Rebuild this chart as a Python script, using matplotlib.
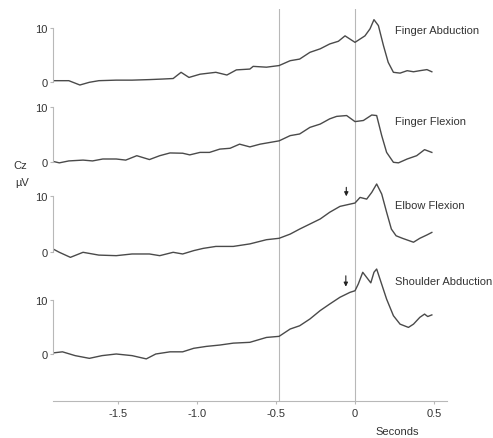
import matplotlib
matplotlib.use('Agg')
import matplotlib.pyplot as plt

# Cz potentials, four movements (uV vs seconds)
labels = ['Finger Abduction', 'Finger Flexion', 'Elbow Flexion', 'Shoulder Abduction']

t_fabd = [-1.90, -1.81, -1.74, -1.68, -1.62, -1.51, -1.41, -1.30, -1.22, -1.15, -1.10, -1.05,
          -0.98, -0.88, -0.81, -0.75, -0.665, -0.644, -0.56, -0.48, -0.41, -0.35, -0.285, -0.22,
          -0.16, -0.105, -0.063, 0.0, 0.063, 0.095, 0.12, 0.148, 0.18, 0.21, 0.243, 0.285,
          0.33, 0.37, 0.41, 0.455, 0.486]
v_fabd = [0.3, 0.3, -0.5, 0.0, 0.3, 0.4, 0.4, 0.5, 0.6, 0.7, 1.85, 0.9,
          1.5, 1.85, 1.35, 2.3, 2.45, 2.95, 2.8, 3.1, 4.0, 4.3, 5.55, 6.2,
          7.1, 7.6, 8.6, 7.4, 8.6, 9.9, 11.6, 10.5, 6.8, 3.7, 1.85, 1.7,
          2.15, 1.95, 2.15, 2.35, 1.95]

t_fflex = [-1.90, -1.87, -1.81, -1.72, -1.66, -1.595, -1.51, -1.45, -1.38, -1.30, -1.235, -1.17,
           -1.09, -1.045, -0.98, -0.92, -0.855, -0.79, -0.73, -0.665, -0.60, -0.48, -0.41, -0.35,
           -0.285, -0.22, -0.16, -0.116, -0.053, 0.0, 0.053, 0.106, 0.137, 0.169, 0.20, 0.243,
           0.275, 0.33, 0.39, 0.44, 0.486]
v_fflex = [0.1, -0.1, 0.25, 0.4, 0.25, 0.6, 0.6, 0.4, 1.2, 0.5, 1.2, 1.7,
           1.65, 1.35, 1.8, 1.8, 2.4, 2.55, 3.3, 2.8, 3.3, 3.9, 4.85, 5.15,
           6.35, 6.95, 7.9, 8.35, 8.5, 7.4, 7.6, 8.6, 8.5, 4.85, 1.8, 0.0,
           -0.1, 0.6, 1.2, 2.3, 1.8]

t_eflex = [-1.91, -1.87, -1.80, -1.72, -1.62, -1.51, -1.41, -1.30, -1.235, -1.15, -1.09, -1.02,
           -0.96, -0.88, -0.77, -0.665, -0.56, -0.48, -0.41, -0.35, -0.285, -0.22, -0.16, -0.095,
           -0.032, 0.0, 0.032, 0.074, 0.106, 0.137, 0.169, 0.20, 0.23, 0.26, 0.30, 0.37,
           0.41, 0.455, 0.486]
v_eflex = [0.6, 0.0, -0.9, 0.0, -0.5, -0.6, -0.3, -0.3, -0.6, 0.0, -0.3, 0.3,
           0.7, 1.05, 1.05, 1.5, 2.25, 2.5, 3.25, 4.15, 5.05, 5.95, 7.15, 8.2,
           8.6, 8.8, 9.8, 9.5, 10.7, 12.2, 10.4, 7.15, 4.15, 2.95, 2.5, 1.8,
           2.5, 3.1, 3.55]

t_sabd = [-1.91, -1.85, -1.77, -1.68, -1.60, -1.51, -1.41, -1.32, -1.26, -1.17, -1.09, -1.02,
          -0.94, -0.855, -0.77, -0.665, -0.56, -0.48, -0.41, -0.35, -0.285, -0.22, -0.16, -0.095,
          -0.032, 0.0, 0.021, 0.049, 0.074, 0.10, 0.12, 0.137, 0.158, 0.20, 0.243, 0.285,
          0.338, 0.37, 0.41, 0.44, 0.46, 0.486]
v_sabd = [0.2, 0.4, -0.3, -0.8, -0.3, 0.0, -0.3, -0.9, 0.0, 0.4, 0.4, 1.05,
          1.4, 1.65, 2.0, 2.15, 3.05, 3.25, 4.6, 5.2, 6.45, 8.0, 9.2, 10.45,
          11.35, 11.65, 12.9, 15.05, 14.1, 13.1, 15.05, 15.65, 13.8, 10.1, 7.05, 5.5,
          4.9, 5.5, 6.75, 7.35, 6.9, 7.2]

times = [t_fabd, t_fflex, t_eflex, t_sabd]
values = [v_fabd, v_fflex, v_eflex, v_sabd]
label_y = [9.75, 7.45, 8.5, 13.5]
# movement onset arrows (time, tail, tip) for elbow and shoulder
arrows = {2: (-0.055, 11.6, 10.0), 3: (-0.058, 14.4, 12.4)}

x_ticks = [-1.5, -1.0, -0.5, 0, 0.5]
x_ticklabels = ['-1.5', '-1.0', '-0.5', '0', '0.5']
markers_t = [-0.48, 0.0]

plt.rcParams['font.family'] = ['Liberation Sans', 'DejaVu Sans']
W, H = 493, 439
fig = plt.figure(figsize=(W / 100, H / 100), dpi=100)

grey = '#b8b8b8'
txt = '#333333'
xlim = (-1.91, 0.58)
left = 53 / W
width = (446.7 - 53) / W

# main axes: time axis + reference lines
ax = fig.add_axes([left, 1 - 402 / H, width, (402 - 10) / H])
ax.set_xlim(xlim)
ax.set_ylim(0, 1)
for s in ['left', 'top', 'right']:
    ax.spines[s].set_visible(False)
ax.spines['bottom'].set_color(grey)
ax.set_yticks([])
ax.set_xticks(x_ticks)
ax.set_xticklabels(x_ticklabels, fontsize=8, color=txt)
ax.tick_params(axis='x', length=2, color=grey, pad=3)
for m in markers_t:
    ax.axvline(m, color=grey, lw=0.8)
ax.set_xlabel('Seconds', fontsize=8, color=txt)
ax.xaxis.set_label_coords(0.875, -0.065)

# one axes per trace
zero_px = [83.3, 163.3, 253.3, 355.0]
px_per_uv = [5.4, 5.5, 5.6, 5.43]
lo, hi = -3, 17
for i in range(4):
    bot = zero_px[i] - lo * px_per_uv[i]
    top = zero_px[i] - hi * px_per_uv[i]
    a = fig.add_axes([left, 1 - bot / H, width, (bot - top) / H])
    a.patch.set_visible(False)
    a.set_xlim(xlim)
    a.set_ylim(lo, hi)
    a.plot(times[i], values[i], color='#4a4a4a', lw=1.0)
    for s in ['bottom', 'top', 'right']:
        a.spines[s].set_visible(False)
    a.spines['left'].set_color(grey)
    a.spines['left'].set_bounds(0, 10)
    a.set_xticks([])
    a.set_yticks([0, 10])
    a.set_yticklabels(['0', '10'], fontsize=8, color=txt)
    a.tick_params(axis='y', length=2, color=grey, pad=2)
    a.text(0.255, label_y[i], labels[i], fontsize=8, color=txt, ha='left', va='center')
    if i in arrows:
        ta, tail, tip = arrows[i]
        a.annotate('', xy=(ta, tip), xytext=(ta, tail),
                   arrowprops=dict(arrowstyle='-|>', color='#222222', lw=0.8,
                                   mutation_scale=6, shrinkA=0, shrinkB=0))

fig.text(20 / W, 1 - 165.7 / H, 'Cz', fontsize=8, color=txt, ha='center', va='center')
fig.text(22 / W, 1 - 183.3 / H, '\u00b5V', fontsize=8, color=txt, ha='center', va='center')

fig.savefig('out.png', dpi=100)
